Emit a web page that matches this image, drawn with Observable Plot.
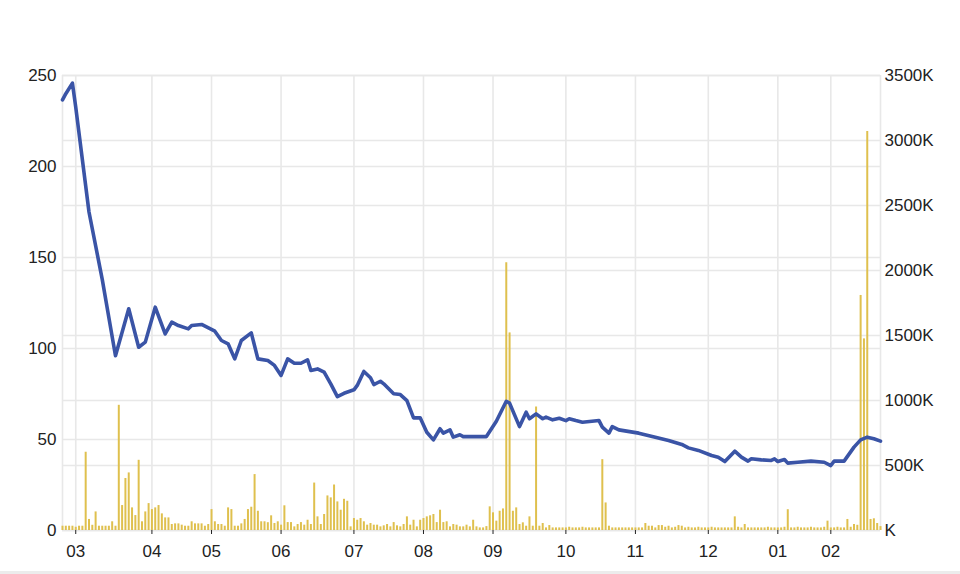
<!DOCTYPE html>
<html>
<head>
<meta charset="utf-8">
<script src="https://cdn.jsdelivr.net/npm/d3@7"></script>
<script src="https://cdn.jsdelivr.net/npm/@observablehq/plot@0.6"></script>
<style>
  html, body { margin: 0; padding: 0; background: #fff; }
  #chart { width: 960px; border-bottom: 3px solid #ececec; }
  #chart svg { display: block; }
</style>
</head>
<body>
<div id="chart"></div>
<script>
// Month tick positions (trading-day index) and labels
const monthTickIdx = [4, 27, 45, 66, 88, 109, 130, 152, 173, 195, 216, 232];
const monthLabels = ["03", "04", "05", "06", "07", "08", "09", "10", "11", "12", "01", "02"];

// Left axis (price) ticks and right axis (volume, K) ticks
const priceTicks = [0, 50, 100, 150, 200, 250];
const volumeTicksK = [0, 500, 1000, 1500, 2000, 2500, 3000, 3500];

// Price line: trading-day index and closing price
const priceIdx = [0, 1, 3, 4, 8, 12, 16, 20, 23, 25, 28, 31, 33, 35, 38, 39, 42, 46, 48, 50,
  52, 54, 57, 59, 62, 64, 66, 68, 70, 72, 74, 75, 77, 79, 81, 83, 85, 88, 89, 91,
  93, 94, 96, 97, 100, 102, 104, 106, 108, 110, 112, 114, 115, 117, 118, 120, 121, 128, 131, 134,
  135, 138, 140, 141, 143, 145, 146, 148, 150, 152, 153, 155, 157, 162, 163, 165, 166, 168, 174, 179,
  183, 187, 189, 192, 196, 198, 200, 203, 205, 207, 208, 211, 214, 215, 216, 218, 219, 222, 226, 230,
  232, 233, 236, 239, 241, 243, 245, 247];
const priceVal = [236.6, 240, 245.8, 232.6, 175, 138, 96, 121.8, 100.7, 103.5, 122.7, 108, 114.5, 112.6, 110.8, 112.6, 113.2, 109.5, 104.4, 102.6,
  94.3, 104.4, 108.6, 94.3, 93.4, 90.7, 85.2, 94.3, 91.9, 91.9, 93.8, 87.9, 88.8, 87, 80.6, 73.6, 75.4, 77.3, 79.7, 87.4,
  83.9, 80.2, 82, 80.6, 75.1, 74.7, 71.4, 61.9, 61.9, 54, 49.8, 55.9, 53.5, 55.3, 51.3, 52.6, 51.6, 51.6, 60, 71,
  70, 57.1, 65, 61.4, 64.1, 61.4, 62.3, 60.8, 61.7, 60.4, 61.4, 60.4, 59.5, 60.4, 56.8, 53.5, 57.1, 55.3, 53.5, 51.3,
  49.5, 47.3, 45.4, 44, 41.2, 40.3, 37.9, 43.6, 40.3, 38.1, 39.4, 38.8, 38.5, 39.4, 37.9, 39, 37, 37.5, 38.1, 37.5,
  35.7, 38.1, 38.1, 45.8, 49.8, 51.3, 50.4, 49.1];

// Daily volume in thousands of shares
const volumeK = [
  33, 33, 33, 33, 25, 33, 33, 602, 85, 40,
  143, 33, 33, 33, 33, 67, 33, 963, 192, 400,
  443, 174, 115, 540, 67, 143, 207, 161, 174, 192,
  128, 97, 97, 46, 51, 51, 41, 33, 33, 67,
  51, 51, 51, 33, 46, 161, 67, 46, 46, 33,
  174, 161, 33, 33, 51, 85, 161, 179, 430, 148,
  67, 67, 60, 113, 54, 67, 41, 190, 61, 61,
  28, 46, 61, 41, 79, 46, 365, 105, 46, 123,
  266, 251, 350, 220, 156, 240, 225, 28, 92, 79,
  92, 67, 41, 54, 41, 41, 28, 36, 46, 28,
  61, 36, 28, 46, 105, 41, 79, 28, 79, 92,
  105, 113, 123, 61, 156, 61, 67, 28, 46, 41,
  28, 28, 41, 28, 79, 28, 20, 20, 30, 182,
  136, 72, 148, 166, 2060, 1520, 148, 174, 46, 59,
  33, 105, 33, 950, 33, 54, 20, 38, 20, 20,
  20, 20, 20, 25, 20, 20, 20, 25, 20, 20,
  20, 20, 20, 545, 212, 33, 20, 20, 20, 20,
  20, 20, 20, 20, 20, 20, 54, 33, 33, 20,
  38, 38, 25, 33, 20, 25, 38, 33, 20, 25,
  20, 20, 25, 20, 20, 20, 25, 20, 20, 20,
  20, 20, 20, 105, 25, 20, 46, 20, 20, 20,
  20, 20, 20, 25, 20, 20, 20, 20, 25, 160,
  20, 20, 25, 20, 20, 20, 25, 20, 20, 20,
  25, 72, 20, 20, 25, 20, 20, 85, 25, 46,
  40, 1808, 1474, 3069, 85, 90, 54, 30
];

const lastIdx = volumeK.length - 1;
const k = 250 / 3500; // volume (K) -> price-axis units

const priceData = priceIdx.map((d, i) => ({ idx: d, price: priceVal[i] }));
const volData = volumeK.map((v, i) => ({ idx: i, vol: v }));

const gridColor = "#e8e8e8";

const chart = Plot.plot({
  width: 960,
  height: 571,
  marginLeft: 62,
  marginRight: 80,
  marginTop: 75,
  marginBottom: 41,
  style: { fontFamily: "'Liberation Sans', Arial, sans-serif", fontSize: "17px", color: "#222", background: "#fff" },
  x: { type: "linear", domain: [0, lastIdx] },
  y: { domain: [0, 250] },
  marks: [
    // horizontal gridlines for both axes
    Plot.ruleY(priceTicks, { stroke: gridColor, strokeWidth: 1.6 }),
    Plot.ruleY(volumeTicksK.map(v => v * k), { stroke: gridColor, strokeWidth: 1.6 }),
    // vertical gridlines at months and plot edges
    Plot.ruleX(monthTickIdx, { stroke: gridColor, strokeWidth: 1.6 }),
    Plot.ruleX([0, lastIdx], { stroke: gridColor, strokeWidth: 1.6 }),
    // volume bars
    Plot.ruleX(volData, { x: "idx", y1: 0, y2: d => d.vol * k, stroke: "#dfc04e", strokeWidth: 2 }),
    // price line
    Plot.line(priceData, { x: "idx", y: "price", stroke: "#3a54a6", strokeWidth: 3.6, strokeLinejoin: "round", strokeLinecap: "round" }),
    // axes
    Plot.axisY(priceTicks, { anchor: "left", tickSize: 0, tickPadding: 6, label: null, tickFormat: d => String(d) }),
    Plot.axisY(volumeTicksK.map(v => v * k), {
      anchor: "right", tickSize: 0, tickPadding: 4, label: null,
      tickFormat: d => { const v = Math.round(d / k); return v === 0 ? "K" : v + "K"; }
    }),
    Plot.axisX(monthTickIdx, {
      anchor: "bottom", tickSize: 4, tickPadding: 10, label: null,
      tickFormat: d => monthLabels[monthTickIdx.indexOf(d)]
    })
  ]
});

document.getElementById("chart").appendChild(chart);
</script>
</body>
</html>
